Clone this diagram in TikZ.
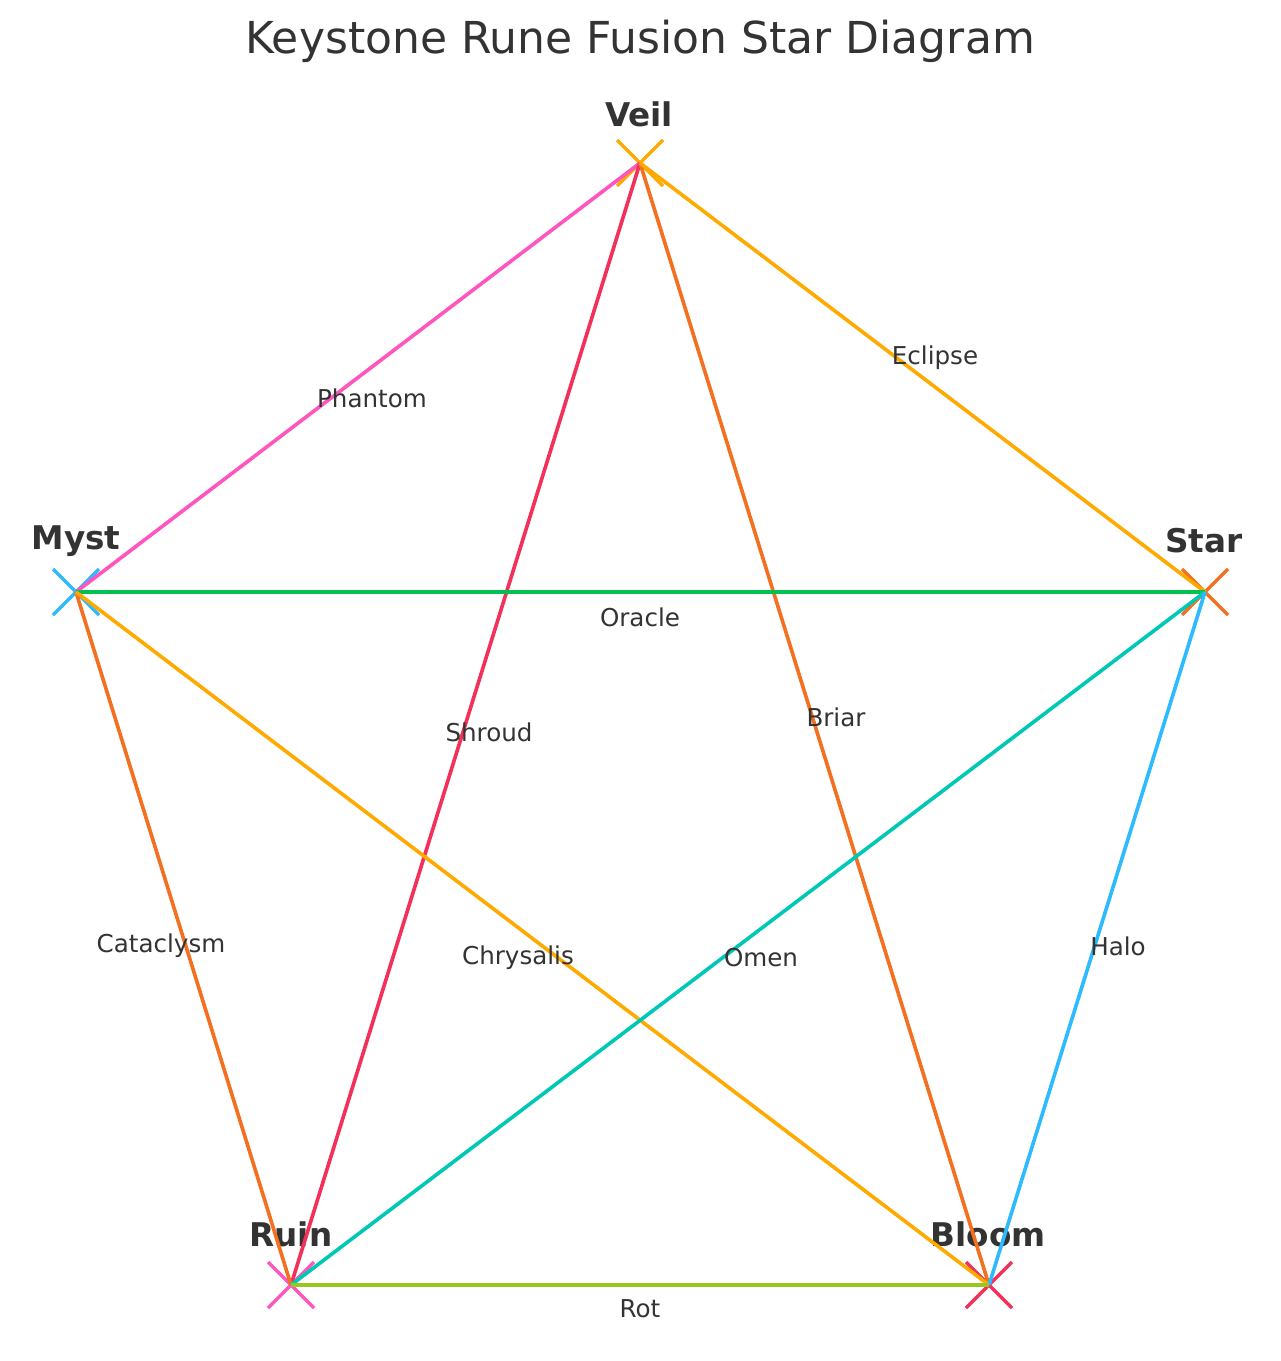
\documentclass[tikz,border=0pt]{standalone}
\usepackage{fontspec}
\setmainfont{DejaVu Sans}
\usetikzlibrary{calc}
\definecolor{cpink}{HTML}{FF55BE}
\definecolor{cred}{HTML}{F2305A}
\definecolor{corange}{HTML}{F37021}
\definecolor{camber}{HTML}{FFAA00}
\definecolor{cgreen}{HTML}{00C050}
\definecolor{cteal}{HTML}{00C8B6}
\definecolor{cblue}{HTML}{2EBAFF}
\definecolor{clime}{HTML}{9BC51F}
\definecolor{ctext}{HTML}{333333}
\tikzset{
  edgeline/.style={line width=2.6pt, line cap=butt},
  xmarker/.style={line width=2.4pt},
  nodelabel/.style={font=\fontsize{23.5}{28}\selectfont\bfseries, text=ctext, inner sep=0pt},
  edgelabel/.style={font=\fontsize{17.7}{21}\selectfont, text=ctext, inner sep=0pt}
}
\begin{document}
\begin{tikzpicture}[x=0.72pt, y=-0.72pt]
\useasboundingbox (0,0) rectangle (1280,1361);
\fill[white] (0,0) rectangle (1280,1361);
% title
\node[font=\fontsize{31.7}{38}\selectfont, text=ctext, inner sep=0pt] (title) at (640,41) {Keystone Rune Fusion Star Diagram};
% vertices
\coordinate (veil) at (640,163);
\coordinate (myst) at (76,592);
\coordinate (star) at (1205,592);
\coordinate (ruin) at (291,1285);
\coordinate (bloom) at (989,1285);
% markers
\draw[xmarker, camber] ($(veil)+(-23,-23)$) -- ($(veil)+(23,23)$) ($(veil)+(-23,23)$) -- ($(veil)+(23,-23)$);
\draw[xmarker, cblue] ($(myst)+(-23,-23)$) -- ($(myst)+(23,23)$) ($(myst)+(-23,23)$) -- ($(myst)+(23,-23)$);
\draw[xmarker, corange] ($(star)+(-23,-23)$) -- ($(star)+(23,23)$) ($(star)+(-23,23)$) -- ($(star)+(23,-23)$);
\draw[xmarker, cpink] ($(ruin)+(-23,-23)$) -- ($(ruin)+(23,23)$) ($(ruin)+(-23,23)$) -- ($(ruin)+(23,-23)$);
\draw[xmarker, cred] ($(bloom)+(-23,-23)$) -- ($(bloom)+(23,23)$) ($(bloom)+(-23,23)$) -- ($(bloom)+(23,-23)$);
% node labels
\node[nodelabel] (lveil) at (639,114) {Veil};
\node[nodelabel] (lmyst) at (76,541) {Myst};
\node[nodelabel] (lstar) at (1204,541) {Star};
\node[nodelabel] (lruin) at (291,1234) {Ruin};
\node[nodelabel] (lbloom) at (988,1234) {Bloom};
% edges
\draw[edgeline, cpink] (myst) -- (veil);
\draw[edgeline, cred] (ruin) -- (veil);
\draw[edgeline, corange] (veil) -- (bloom);
\draw[edgeline, camber] (veil) -- (star);
\draw[edgeline, cgreen] (myst) -- (star);
\draw[edgeline, corange] (myst) -- (ruin);
\draw[edgeline, camber] (myst) -- (bloom);
\draw[edgeline, cteal] (star) -- (ruin);
\draw[edgeline, cblue] (star) -- (bloom);
\draw[edgeline, clime] (ruin) -- (bloom);
% edge labels
\node[edgelabel] (ephantom) at (372,398) {Phantom};
\node[edgelabel] (eeclipse) at (935,358) {Eclipse};
\node[edgelabel] (eoracle) at (640,617) {Oracle};
\node[edgelabel] (eshroud) at (489,732) {Shroud};
\node[edgelabel] (ebriar) at (836,717) {Briar};
\node[edgelabel] (ecata) at (161,946) {Cataclysm};
\node[edgelabel] (echrys) at (518,958) {Chrysalis};
\node[edgelabel] (eomen) at (761,958) {Omen};
\node[edgelabel] (ehalo) at (1118,946) {Halo};
\node[edgelabel] (erot) at (640,1309) {Rot};
\end{tikzpicture}
\end{document}
